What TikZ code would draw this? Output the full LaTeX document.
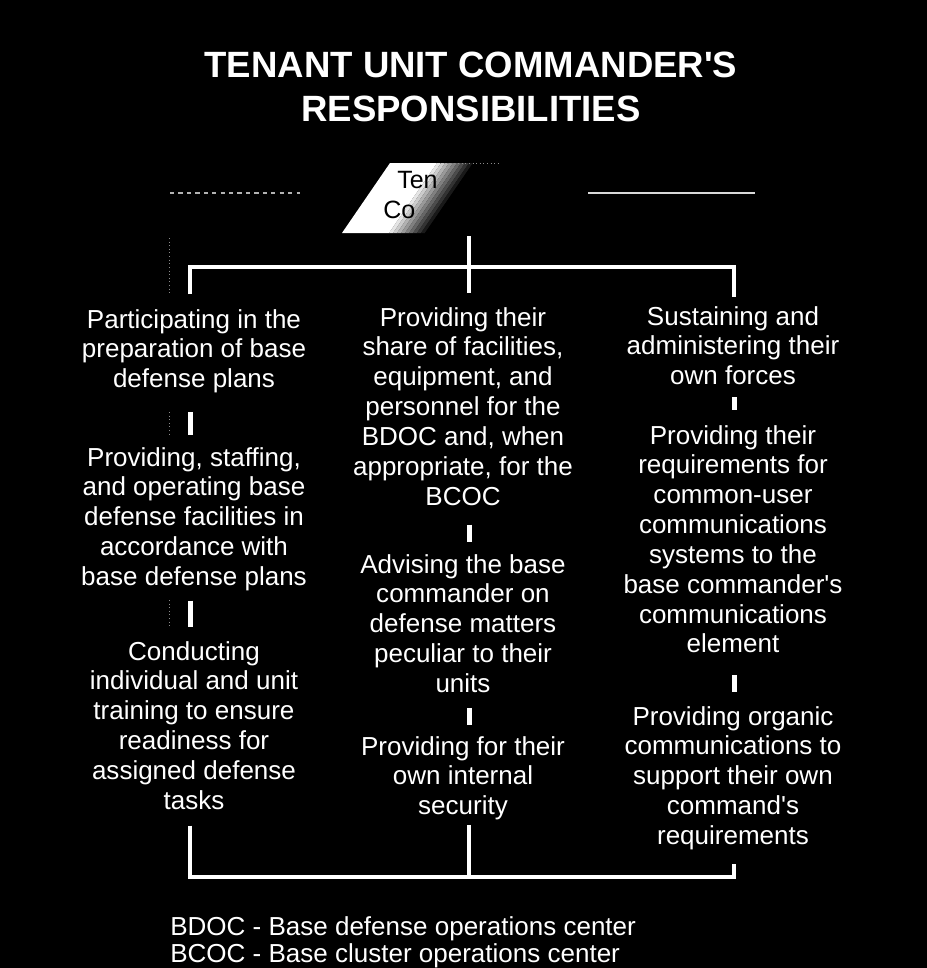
\documentclass[tikz,border=0pt]{standalone}
\usepackage{fontspec}
\setmainfont{Liberation Sans}
\newlength{\unpx}
\setlength{\unpx}{0.025cm}

\begin{document}
\begin{tikzpicture}[x=0.025cm,y=-0.025cm]
% définition des paramètres
\tikzstyle traitblanc=[color=white,line width=4.5\unpx]
\tikzstyle petittrait=[color=white,line width=5\unpx]
\tikzstyle textemichael=[text=white,align=center,inner sep=0pt,anchor=north,font=\fontsize{18.5}{21.2}\selectfont]
\tikzstyle titremichael=[text=white,align=center,inner sep=0pt,anchor=north,font=\fontsize{26}{31.3}\selectfont\bfseries]
\tikzstyle chefmichael=[text=black,inner sep=0pt,anchor=base west,font=\fontsize{17.8}{21.2}\selectfont]
\tikzstyle restemichael=[color=black!45,dotted,line width=0.02cm]

% le fond
\useasboundingbox (0,0) rectangle (927,968);
\fill[black] (0,0) rectangle (927,968);

% les axes des colonnes
\coordinate (axeG) at (190,0);
\coordinate (axeM) at (469,0);
\coordinate (axeD) at (734,0);
\coordinate (barre) at (0,267);
\coordinate (basbarre) at (0,877);
\coordinate (chef) at (469,236);

% le titre
\node[titremichael] (titre) at (471,52) {TENANT UNIT COMMANDER\textquotesingle S\\RESPONSIBILITIES};

% le chef (en partie caché)
\fill[white] (342,233) -- (390,163) -- (437,163) -- (389,233) -- cycle;
\foreach \i [evaluate=\i as \ton using 100-10*\i] in {1,...,10}
    \fill[shift={(4*\i,0)},white!\ton!black] (385,233) -- (433,163) -- (437,163) -- (389,233) -- cycle;
\node[chefmichael] (chefA) at (397,188) {Ten};
\node[chefmichael] (chefB) at (383,218) {Co};
\draw[restemichael] (440,163) -- (500,163);
\draw[gray!60,dashed,line width=0.03cm] (170,193) -- (300,193);
\draw[white!85!black,line width=0.04cm] (588,193) -- (755,193);
\foreach \ya/\yb in {238/293,412/435,600/627}
    \draw[restemichael] (169,\ya) -- (169,\yb);

% les colonnes
\node[textemichael] (gaucheA) at (194,309) {Participating in the\\preparation of base\\defense plans};
\node[textemichael] (gaucheB) at (194,447) {Providing, staffing,\\and operating base\\defense facilities in\\accordance with\\base defense plans};
\node[textemichael] (gaucheC) at (194,641) {Conducting\\individual and unit\\training to ensure\\readiness for\\assigned defense\\tasks};
\node[textemichael] (milieuA) at (463,307) {Providing their\\share of facilities,\\equipment, and\\personnel for the\\BDOC and, when\\appropriate, for the\\BCOC};
\node[textemichael] (milieuB) at (463,554) {Advising the base\\commander on\\defense matters\\peculiar to their\\units};
\node[textemichael] (milieuC) at (463,736) {Providing for their\\own internal\\security};
\node[textemichael] (droiteA) at (733,306) {Sustaining and\\administering their\\own forces};
\node[textemichael] (droiteB) at (733,425) {Providing their\\requirements for\\common-user\\communications\\systems to the\\base commander\textquotesingle s\\communications\\element};
\node[textemichael] (droiteC) at (733,706) {Providing organic\\communications to\\support their own\\command\textquotesingle s\\requirements};

% les petits traits
\foreach \haut/\bas/\axe/\sa/\sb in {gaucheA/gaucheB/axeG/18.5/12,gaucheB/gaucheC/axeG/9.5/14,
    milieuA/milieuB/axeM/19/12,milieuB/milieuC/axeM/15/11,
    droiteA/droiteB/axeD/12/15,droiteB/droiteC/axeD/22/14}
    \draw[petittrait,shorten <=\sa\unpx,shorten >=\sb\unpx] (\haut.south -| \axe) -- (\bas.north -| \axe);

% les accolades
\draw[traitblanc] (chef) -- (axeM |- barre);
\draw[traitblanc,shorten >=14\unpx] (axeM |- barre) -- (milieuA.north -| axeM);
\draw[traitblanc,shorten <=15\unpx,shorten >=9\unpx] (gaucheA.north -| axeG) -- (axeG |- barre) -- (axeD |- barre) -- (droiteA.north -| axeD);
\draw[traitblanc,shorten <=16\unpx,shorten >=13.5\unpx] (gaucheC.south -| axeG) -- (axeG |- basbarre) -- (axeD |- basbarre) -- (droiteC.south -| axeD);
\draw[traitblanc,shorten <=4.5\unpx] (milieuC.south -| axeM) -- (axeM |- basbarre);

% les sigles
\node[text=white,align=left,inner sep=0pt,anchor=north west,font=\fontsize{18.5}{19.6}\selectfont] (sigles) at (170,916) {BDOC - Base defense operations center\\BCOC - Base cluster operations center};
\end{tikzpicture}
\end{document}
